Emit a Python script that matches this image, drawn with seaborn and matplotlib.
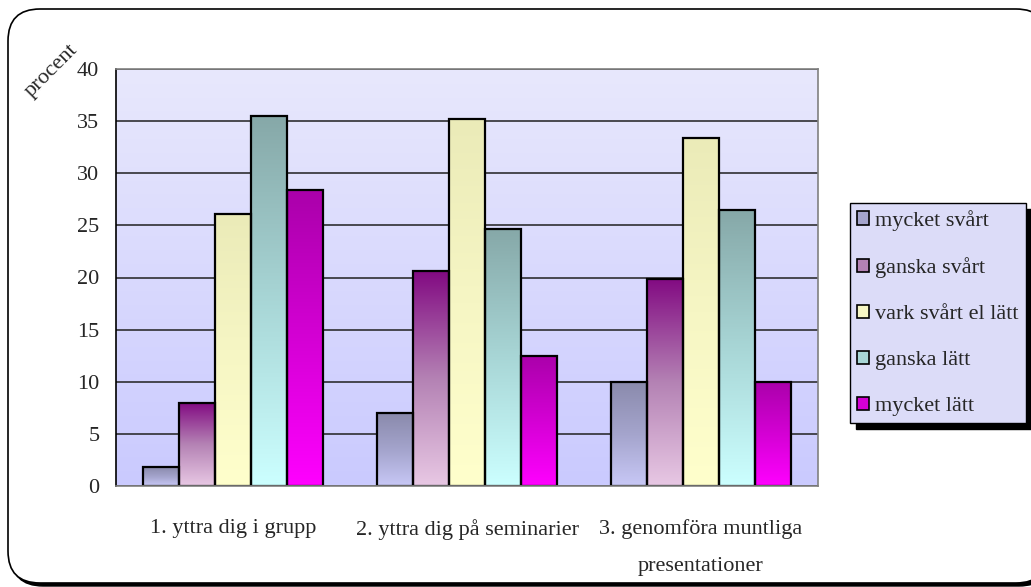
import numpy as np
import pandas as pd
import matplotlib
matplotlib.use("Agg")
import matplotlib.pyplot as plt
import seaborn as sns
from matplotlib.colors import LinearSegmentedColormap
from matplotlib.patches import FancyBboxPatch, Patch
from matplotlib.transforms import IdentityTransform

# ---- data ----
categories = ["1. yttra dig i grupp", "2. yttra dig på seminarier",
              "3. genomföra muntliga\npresentationer"]
series = ["mycket svårt", "ganska svårt", "vark svårt el lätt", "ganska lätt", "mycket lätt"]
mycket_svart = [1.8, 7.0, 10.0]
ganska_svart = [8.0, 20.6, 19.9]
vark_svart_el_latt = [26.1, 35.2, 33.4]
ganska_latt = [35.5, 24.7, 26.5]
mycket_latt = [28.4, 12.5, 10.0]
yticks = [0, 5, 10, 15, 20, 25, 30, 35, 40]
ylabel = "procent"

values = [mycket_svart, ganska_svart, vark_svart_el_latt, ganska_latt, mycket_latt]
rows = []
for s, vals in zip(series, values):
    for c, v in zip(categories, vals):
        rows.append({"category": c, "series": s, "value": v})
df = pd.DataFrame(rows)

# ---- style ----
sns.set_style("white")
plt.rcParams["font.family"] = ["Liberation Serif", "DejaVu Serif"]
FS = 16

top_colors = ["#8a8aac", "#820a82", "#ebebb8", "#86a8a8", "#aa00aa"]
mid_colors = ["#a4a4cc", "#b482b4", "#f6f6c4", "#a8d6d6", "#d400d4"]
bot_colors = ["#c8c8f6", "#e8c8e4", "#ffffcc", "#ccffff", "#ff00ff"]

W, H = 1031, 587
fig = plt.figure(figsize=(W / 100, H / 100), dpi=100)
fig.patch.set_facecolor("white")

# outer rounded frame with shadow (right side runs off the image)
shadow = FancyBboxPatch((11, 1), 1040, 574, boxstyle="round,pad=0,rounding_size=32",
                        transform=IdentityTransform(), facecolor="black",
                        edgecolor="black", lw=1, zorder=-10)
frame = FancyBboxPatch((8, 4), 1040, 574, boxstyle="round,pad=0,rounding_size=32",
                       transform=IdentityTransform(), facecolor="white",
                       edgecolor="black", lw=1.2, zorder=-9)
fig.add_artist(shadow)
fig.add_artist(frame)

ax = fig.add_axes([116 / W, 1 - 486 / H, (818 - 116) / W, (486 - 69) / H])
ax.set_zorder(1)
ax.patch.set_visible(False)

sns.barplot(data=df, x="category", y="value", hue="series", hue_order=series,
            order=categories, palette=bot_colors, width=0.77, edgecolor="black",
            linewidth=1.6, ax=ax, legend=False, saturation=1, errorbar=None)

# background gradient of plot area
bg = LinearSegmentedColormap.from_list("bg", ["#cacaff", "#e8e8fc"])
grad = np.linspace(0, 1, 256).reshape(-1, 1)
ax.imshow(grad, cmap=bg, origin="lower", extent=[-0.5, 2.5, 0, 40],
          aspect="auto", zorder=0.1)

# gradient bars
for i, cont in enumerate(ax.containers):
    cmap = LinearSegmentedColormap.from_list(
        f"c{i}", [bot_colors[i], mid_colors[i], top_colors[i]])
    for bar in cont:
        x0 = bar.get_x()
        w = bar.get_width()
        h = bar.get_height()
        im = ax.imshow(grad, cmap=cmap, origin="lower",
                       extent=[x0, x0 + w, 0, h], aspect="auto", zorder=1.5)
        im.set_clip_path(bar)
        bar.set_facecolor("none")
        bar.set_zorder(2)

ax.set_xlim(-0.5, 2.5)
ax.set_ylim(0, 40)
ax.set_yticks(yticks)
ax.set_yticklabels([str(t) for t in yticks], fontsize=FS)
ax.yaxis.grid(True, color="#202020", lw=1.1, zorder=0.5)
ax.set_axisbelow(True)
ax.set_xlabel("")
ax.set_ylabel("")

ax.set_xticks(range(len(categories)))
ax.set_xticklabels(categories, fontsize=FS, linespacing=2.3)
ax.set_xticks([-0.5, 0.5, 1.5, 2.5], minor=True)
ax.tick_params(axis="x", which="major", length=0, pad=24)
ax.tick_params(axis="x", which="minor", length=5, color="#404040", width=1, direction="out")
ax.tick_params(axis="y", length=5, width=1, color="#303030", direction="out", pad=7)
for lab in ax.get_xticklabels():
    lab.set_verticalalignment("top")

for side in ["top", "right", "bottom"]:
    ax.spines[side].set_visible(True)
    ax.spines[side].set_color("#808080")
    ax.spines[side].set_linewidth(1.2)
ax.spines["left"].set_color("black")
ax.spines["left"].set_linewidth(1.2)

fig.text(52 / W, 1 - 71 / H, ylabel, rotation=45, ha="center", va="center", fontsize=FS)

# legend
handles = [Patch(facecolor=mid_colors[i], edgecolor="black", lw=1.2) for i in range(len(series))]
leg = fig.legend(handles, series, loc="upper left",
                 bbox_to_anchor=(850 / W, 1 - 203 / H), borderaxespad=0,
                 fontsize=FS, frameon=True, fancybox=False,
                 shadow={"color": "black", "alpha": 1, "ox": 4, "oy": -4},
                 handlelength=0.55, handleheight=0.55, handletextpad=0.27,
                 labelspacing=1.19, borderpad=0.32)
leg.get_frame().set_facecolor("#dcdcf8")
leg.get_frame().set_edgecolor("black")
leg.get_frame().set_linewidth(1)

fig.savefig("out.png", dpi=100)
